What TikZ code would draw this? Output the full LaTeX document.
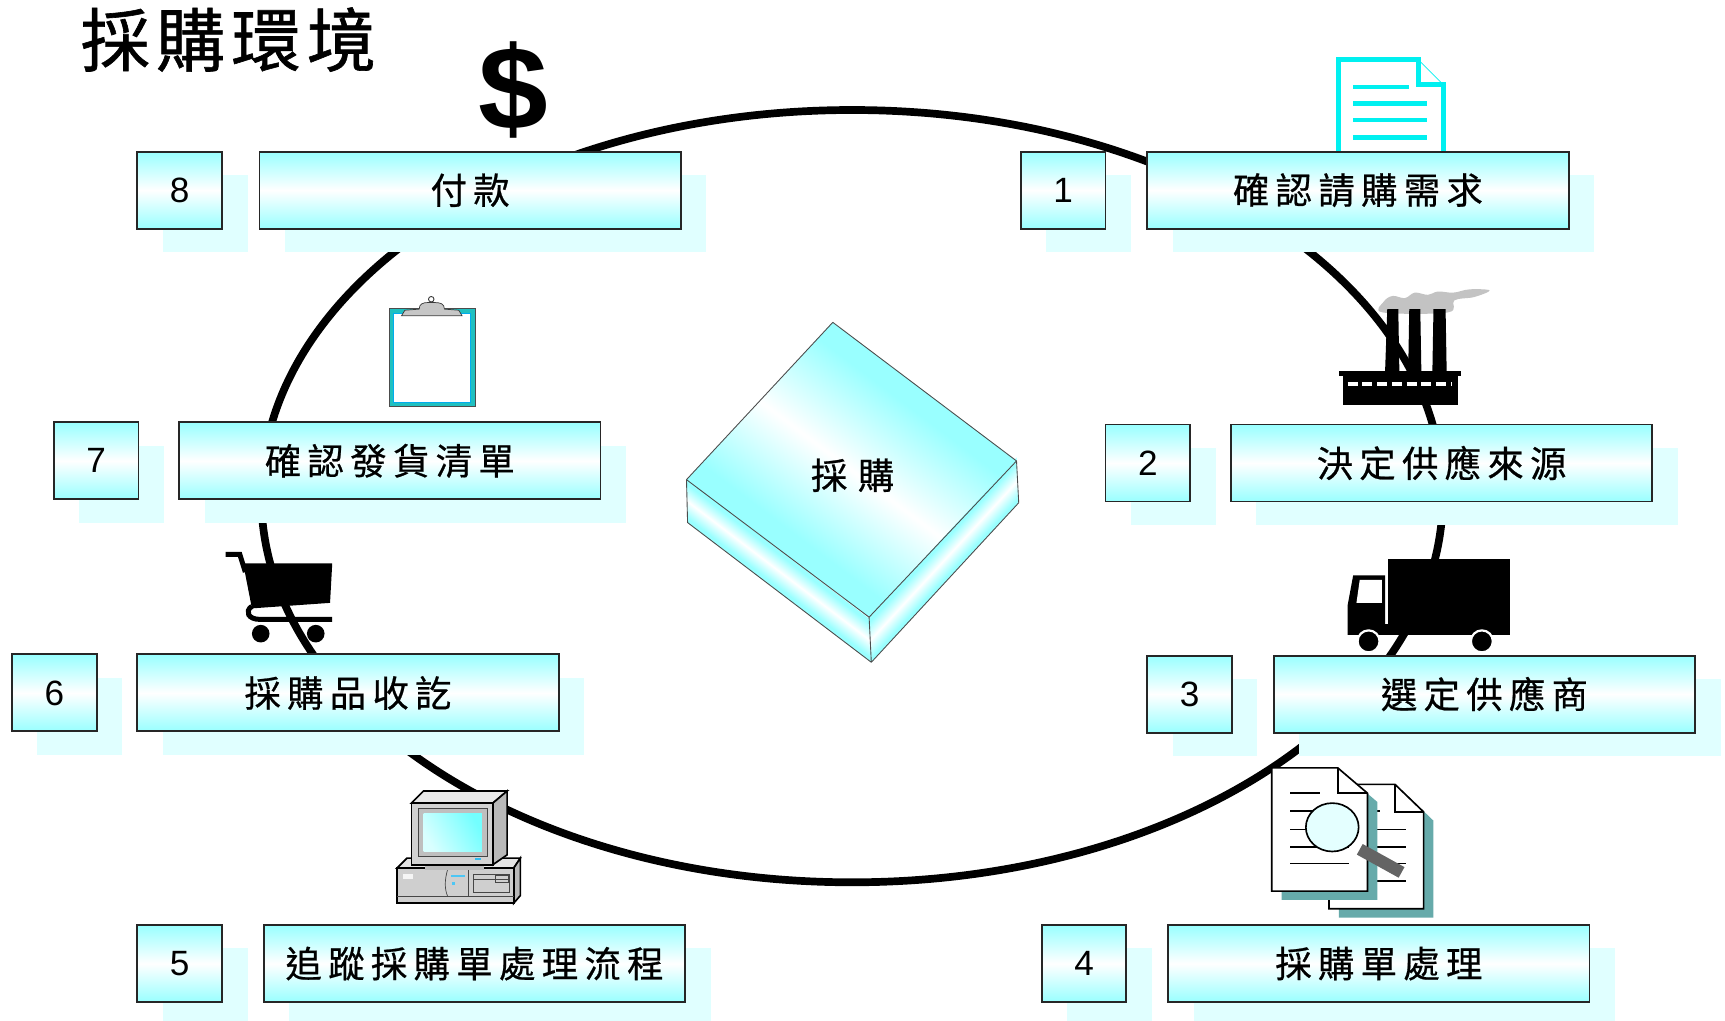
\documentclass[tikz,border=0pt]{standalone}
\usepackage{fontspec}
\newfontfamily\cjk[FakeBold=0.6]{Noto Sans CJK TC}
\newfontfamily\cjkhead[FakeBold=0.9]{Noto Sans CJK TC}
\newfontfamily\arial{Liberation Sans}
\definecolor{boxcyan}{RGB}{153,255,255}
\definecolor{shadowcyan}{RGB}{224,255,255}
\definecolor{doccyan}{RGB}{0,240,240}
\definecolor{clipteal}{RGB}{32,192,192}
\definecolor{pageshadow}{RGB}{102,170,170}
\definecolor{smoke}{RGB}{195,195,195}
\definecolor{glass}{RGB}{228,255,255}
\definecolor{handlegray}{RGB}{100,100,100}
% cyan with a narrow bright streak across the middle
\pgfdeclareverticalshading{streak}{100bp}{color(0bp)=(boxcyan); color(30bp)=(boxcyan);
  color(50bp)=(white); color(70bp)=(boxcyan); color(100bp)=(boxcyan)}
\makeatletter
% set a run of CJK characters with a fixed gap between them
\newcommand\gapped[2]{\@tfor\gp@tok:=#2\do{\gp@tok\hskip#1\relax}\unskip}
\makeatother
\tikzset{
  ring/.style={line width=0.154cm},
  boxface/.style={draw=black!85, line width=1.1pt, top color=boxcyan,
    bottom color=boxcyan, middle color=white, inner sep=0pt,
    anchor=north west, minimum height=1.54cm},
  numbox/.style={boxface, minimum width=1.694cm, font=\arial\fontsize{20}{24}\selectfont},
  labelbox/.style={boxface, minimum width=8.426cm, font=\cjk\fontsize{20.7}{24}\selectfont},
  boxshadow/.style={fill=shadowcyan},
  blockedge/.style={draw=black!70, line width=0.5pt},
  outline/.style={draw=black, line width=0.033cm},
  thin outline/.style={draw=gray!55!black, line width=0.4pt},
}
% one numbered step: #1 id, #2 x of number box, #3 top, #4 x of label box, #5 number, #6 label
\newcommand\procstep[6]{%
  \fill[boxshadow] (#2+24,#3+22) rectangle ++(77,70);
  \fill[boxshadow] (#4+24,#3+22) rectangle ++(383,70);
  \node[numbox] (n#1) at (#2,#3) {#5};
  \node[labelbox] (t#1) at (#4,#3) {\gapped{3.6pt}{#6}};
}
\begin{document}
\begin{tikzpicture}[x=0.022cm, y=-0.022cm]
\useasboundingbox (0,0) rectangle (1568,928);
\fill[white] (0,0) rectangle (1568,928);

% heading
\node[anchor=base west, inner sep=0pt, font=\cjkhead\fontsize{39.4}{44}\selectfont]
  (title) at (73,60) {\gapped{3.5pt}{採購環境}};

% the cycle
\draw[ring] (774.5,451) ellipse [x radius=537, y radius=351];

% central block: each face is a unit square mapped onto the face, so the streak runs along it
\shade[shading=streak, transform canvas={cm={3.674,-2.794,-0.022,0.858,(625,475)}}]
  (0cm,0cm) rectangle (1cm,1cm);
\shade[shading=streak, transform canvas={cm={2.948,3.19,-0.044,0.902,(792,602)}}]
  (0cm,0cm) rectangle (1cm,1cm);
\shade[shading=streak, transform canvas={cm={3.652,-2.75,2.926,3.146,(624,436)}}]
  (0cm,0cm) rectangle (1cm,1cm);
\draw[blockedge, line join=round] (757,293) -- (924,419) -- (790,561) -- (624,436) -- cycle
  (624,436) -- (625,475) -- (792,602) -- (926,457) -- (924,419) (790,561) -- (792,602);
\node[font=\cjk\fontsize{20.7}{24}\selectfont, inner sep=0pt] (core) at (775,432) {\gapped{6pt}{採購}};

% dollar sign
\node[anchor=base, inner sep=0pt, font=\arial\bfseries\fontsize{66}{72}\selectfont] (dollar) at (467,118) {\scalebox{1.08}[1.02]{\$}};

% requisition sheet
\begin{scope}[doccyan, line width=0.099cm]
  \fill[white] (1217,140) -- (1217,54) -- (1289,54) -- (1312,77) -- (1312,140) -- cycle;
  \draw (1217,140) -- (1217,54) -- (1289,54) -- (1289,77) -- (1312,77) -- (1312,140);
  \draw[line width=0.4pt] (1289,54) -- (1312,77);
  \draw[line width=0.088cm] (1230,79) -- (1281,79)
    (1230,94) -- (1297,94) (1230,109) -- (1297,109) (1230,125) -- (1297,125);
\end{scope}

% factory
\fill[smoke] plot[smooth cycle, tension=0.6] coordinates {(1257,284) (1258,274) (1266,269) (1277,271)
  (1286,266) (1298,268) (1307,265) (1321,266) (1336,263) (1354,264) (1340,270) (1322,273) (1316,284)};
\fill[black] (1261,281) -- (1271,281) -- (1272,338) -- (1259,338) -- cycle;
\fill[black] (1281,281) -- (1291,281) -- (1292,338) -- (1280,338) -- cycle;
\fill[black] (1303,281) -- (1314,281) -- (1315,338) -- (1302,338) -- cycle;
\fill[black] (1217,337) rectangle (1328,342);
\fill[black] (1221,341) rectangle (1325,368);
\draw[white, line width=0.066cm, dash pattern=on 5.6pt off 2.8pt] (1225,349) -- (1320,349);

% truck
\fill[black] (1262,508) rectangle (1373,570);
\fill[black] (1225,567) rectangle (1373,577);
\fill[black] (1230,523) -- (1259,523) -- (1259,577) -- (1225,577) -- (1225,550) -- cycle;
\fill[white] (1236,527) -- (1256,527) -- (1256,548) -- (1233,548) -- cycle;
\filldraw[fill=black, draw=white, line width=0.044cm] (1244,583) circle (10) (1347,583) circle (10);

% purchase orders under the magnifier
\fill[pageshadow] (1217,721) -- (1277,721) -- (1303,746) -- (1303,834) -- (1217,834) -- cycle;
\filldraw[outline, fill=white] (1208,713) -- (1268,713) -- (1294,738) -- (1294,826) -- (1208,826) -- cycle;
\draw[outline] (1268,713) -- (1268,738) -- (1294,738);
\draw[outline] (1225,737) -- (1254,737) (1225,754) -- (1278,754) (1225,770) -- (1278,770)
  (1225,785) -- (1278,785) (1225,801) -- (1278,801);
\fill[pageshadow] (1165,706) -- (1225,706) -- (1252,729) -- (1252,818) -- (1165,818) -- cycle;
\filldraw[outline, fill=white] (1156,698) -- (1216,698) -- (1243,721) -- (1243,810) -- (1156,810) -- cycle;
\draw[outline] (1216,698) -- (1216,721) -- (1243,721);
\draw[outline] (1173,721) -- (1200,721) (1173,737) -- (1226,737) (1173,754) -- (1226,754)
  (1173,770) -- (1226,770) (1173,785) -- (1226,785);
\draw[handlegray, line width=0.242cm] (1236,772) -- (1274,793);
\filldraw[outline, fill=glass] (1211,752) ellipse [x radius=24, y radius=22];

% computer
\filldraw[outline, fill=gray!20] (361,789) -- (370,780) -- (473,780) -- (467,789) -- cycle;
\filldraw[outline, fill=gray!55] (467,789) -- (473,780) -- (473,814) -- (467,821) -- cycle;
\filldraw[outline, fill=gray!38] (361,789) rectangle (467,821);
\draw[thin outline] (361,815) -- (467,815);
\fill[gray!8] (366,794) rectangle (375,799);
\draw[thin outline] (407,790) .. controls (404,800) and (404,808) .. (407,815);
\draw[thin outline] (426,790) -- (426,815);
\fill[cyan!70] (410,795) rectangle (423,797);
\fill[cyan!70] (411,802) rectangle (414,804);
\draw[thin outline] (430,795) rectangle (463,811) (430,799) -- (463,799) (450,796) rectangle (462,802);
\fill[gray!55] (386,786) rectangle (440,791);
\filldraw[outline, fill=gray!18] (374,730) -- (385,719) -- (461,719) -- (448,730) -- cycle;
\filldraw[outline, fill=gray!55] (448,730) -- (461,719) -- (461,777) -- (448,786) -- cycle;
\filldraw[outline, fill=gray!35] (374,730) rectangle (448,786);
\filldraw[thin outline, fill=gray!50] (380,735) rectangle (443,778);
\shade[left color=cyan!15, right color=cyan!55, shading angle=120] (385,739) rectangle (438,774);
\fill[cyan!80] (432,780) rectangle (437,782);

% clipboard
\filldraw[fill=clipteal, draw=gray!60!black, line width=0.4pt] (354,280) rectangle (432,369);
\filldraw[fill=white, draw=cyan, line width=0.5pt] (358,285) rectangle (428,366);
\filldraw[fill=gray!45, draw=gray!45!black, line width=0.4pt]
  (365,287) -- (368,282) -- (381,281) .. controls (381,276) and (385,275) .. (389,275)
  -- (395,275) .. controls (400,275) and (404,276) .. (404,281) -- (417,282) -- (420,287) -- cycle;
\draw[gray!45!black, line width=0.5pt] (392,272) circle (2.5);

% shopping cart
\fill[black] (221,512) -- (302,512) -- (300,548) -- (229,553) -- cycle;
\draw[line width=0.1cm] (205,504) -- (218,504) -- (223,520);
\draw[line width=0.1cm] (229,551) .. controls (222,556) and (226,563) .. (236,563) -- (302,563);
\fill[black] (237,576) circle (8) (287,576) circle (8);

% the eight steps
\procstep{8}{124}{137}{235}{8}{付款}
\procstep{1}{927}{137}{1042}{1}{確認請購需求}
\procstep{7}{48}{383}{162}{7}{確認發貨清單}
\procstep{2}{1004}{385}{1118}{2}{決定供應來源}
\procstep{6}{10}{594}{124}{6}{採購品收訖}
\procstep{3}{1042}{595}{1157}{3}{選定供應商}
\procstep{5}{124}{840}{239}{5}{追蹤採購單處理流程}
\procstep{4}{946}{840}{1061}{4}{採購單處理}
\end{tikzpicture}
\end{document}
